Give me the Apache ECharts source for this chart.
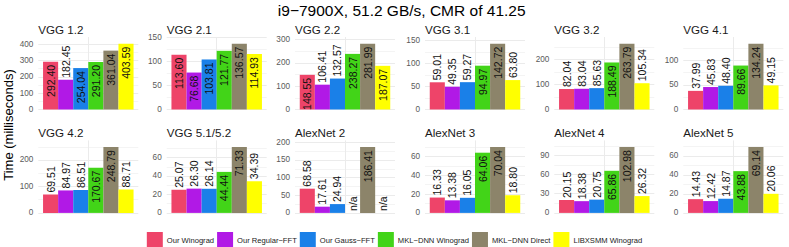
<!DOCTYPE html>
<html><head><meta charset="utf-8">
<script src="https://cdn.jsdelivr.net/npm/echarts@6/dist/echarts.min.js"></script>
<style>html,body{margin:0;padding:0;background:#fff}#c{width:789px;height:247px}</style>
</head><body><div id="c"></div>
<script>
const chartTitle = 'i9−7900X, 51.2 GB/s, CMR of 41.25';
const yTitle = 'Time (milliseconds)';
const panels = ['VGG 1.2','VGG 2.1','VGG 2.2','VGG 3.1','VGG 3.2','VGG 4.1','VGG 4.2','VGG 5.1/5.2','AlexNet 2','AlexNet 3','AlexNet 4','AlexNet 5'];
const methods = ['Our Winograd','Our Regular−FFT','Our Gauss−FFT','MKL−DNN Winograd','MKL−DNN Direct','LIBXSMM Winograd'];
const ourWinograd     = [292.40,113.60,148.55, 59.01, 82.04, 37.99, 69.51,25.07, 68.58,16.33, 20.15,14.43];
const ourRegularFFT   = [182.45, 76.68,106.41, 49.35, 83.04, 45.83, 84.97,26.30, 17.61,13.38, 18.38,12.42];
const ourGaussFFT     = [254.04,103.81,132.57, 59.27, 85.63, 48.40, 86.51,26.14, 24.94,16.05, 20.75,14.87];
const mklWinograd     = [291.20,121.77,238.27, 94.97,188.49, 89.66,170.67,44.44,  null,64.06, 65.86,43.88];
const mklDirect       = [361.04,136.57,281.99,142.72,263.79,134.24,248.79,71.33,186.41,70.04,102.98,69.14];
const libxsmmWinograd = [403.59,114.93,187.07, 63.80,105.34, 49.15, 88.71,34.39,  null,18.80, 26.32,20.06];
const majorTicks = [100,50,100,50,100,50,100,20,50,20,30,20];

const seriesValues = [ourWinograd, ourRegularFFT, ourGaussFFT, mklWinograd, mklDirect, libxsmmWinograd];
const colors = ['#EE4469','#B119E6','#1A80E8','#42D418','#8C846A','#FFFF00'];
const FONT = 'Liberation Sans, Arial, Helvetica, sans-serif';

const colLeft = [38.3,166.7,295,425,554.3,683.3];
const rowTop = [37, 140.4];
const plotH = 72.5;
const gridW = 100;

const grids = [], xAxes = [], yAxes = [], series = [], graphics = [];
panels.forEach((name, p) => {
  const r = Math.floor(p / 6), c = p % 6;
  grids.push({left: colLeft[c], top: rowTop[r], width: gridW, height: plotH});
  const vals = seriesValues.map(a => a[p]);
  const M = Math.max(...vals.filter(v => v != null));
  const ymax = M * 1.1015;
  const major = majorTicks[p];
  xAxes.push({type:'category', gridIndex:p, data:[name], axisLine:{show:false}, axisTick:{show:false}, axisLabel:{show:false}, splitLine:{show:false}});
  xAxes.push({type:'category', gridIndex:p, boundaryGap:false, data:['a','b','c'], axisLine:{show:false}, axisTick:{show:false}, axisLabel:{show:false},
    splitLine:{show:true, interval:(i) => i === 1, lineStyle:{color:'#ebebeb', width:1}}});
  yAxes.push({type:'value', gridIndex:p, min:0, max:ymax, interval: major/2,
    axisLine:{show:false}, axisTick:{show:false},
    axisLabel:{fontFamily:FONT, fontSize:8.2, color:'#5a5a5a', margin:5, showMaxLabel:false,
      formatter:(v) => { const q = v / major; return Math.abs(q - Math.round(q)) < 1e-6 ? String(Math.round(v)) : ''; }},
    splitLine:{show:true, showMaxLine:false, lineStyle:{color:['#ebebeb','#f4f4f4'], width:1}}});
  seriesValues.forEach((arr, m) => {
    const v = arr[p];
    const inside = v != null && v > 0.5 * M;
    series.push({
      type:'bar', name: methods[m], xAxisIndex: 2*p, yAxisIndex: p,
      barGap: '0%', barCategoryGap: '9.5%', itemStyle:{color: colors[m]},
      silent: true, animation: false,
      data: [{value: v == null ? 0 : v,
        label:{show:true, rotate:90, fontFamily:FONT, fontSize:10.5, color:'#111',
          position: inside ? 'insideTop' : 'top',
          align: inside ? 'right' : 'left', verticalAlign:'middle',
          distance: inside ? 3 : 2,
          formatter: v == null ? 'n/a' : v.toFixed(2)}}]
    });
  });
  graphics.push({type:'text', x: colLeft[c], y: rowTop[r] - 8, silent:true,
    style:{text:name, fontFamily:FONT, fontSize:11.6, fill:'#1a1a1a', align:'left', verticalAlign:'middle', textAlign:'left', textVerticalAlign:'middle'}});
});
graphics.push({type:'text', x: 401.7, y: 10, silent:true,
  style:{text:chartTitle, fontFamily:FONT, fontSize:15.5, fill:'#000', align:'center', verticalAlign:'middle', textAlign:'center', textVerticalAlign:'middle'}});
graphics.push({type:'text', x: 8.5, y: 125, rotation: Math.PI/2, silent:true,
  style:{text:yTitle, fontFamily:FONT, fontSize:13, fill:'#000', align:'center', verticalAlign:'middle', textAlign:'center', textVerticalAlign:'middle'}});

const chart = echarts.init(document.getElementById('c'), null, {renderer:'svg'});
chart.setOption({
  animation:false,
  grid: grids, xAxis: xAxes, yAxis: yAxes, series: series, graphic: graphics,
  legend: {data: methods, left:'center', top:227, icon:'rect', itemWidth:16, itemHeight:16, itemGap:3,
    selectedMode:false, textStyle:{fontFamily:FONT, fontSize:7.6, color:'#1a1a1a', padding:[0,0,0,-1]}}
});
</script></body></html>
